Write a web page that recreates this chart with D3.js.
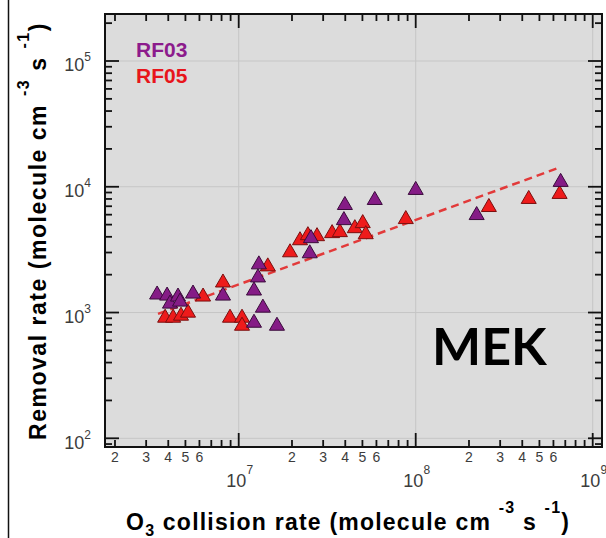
<!DOCTYPE html>
<html>
<head>
<meta charset="utf-8">
<script src="https://cdn.jsdelivr.net/npm/d3@7"></script>
<style>
  html, body { margin: 0; padding: 0; background: #ffffff; }
  svg { display: block; }
</style>
</head>
<body>
<svg id="chart" width="606" height="538"></svg>
<script>
// O3 collision rate vs. MEK removal rate, two research flights
const rf03X = [3.46e6, 3.94e6, 4.09e6, 4.54e6, 4.66e6, 5.52e6, 8.15e6, 1.30e7, 1.285e7, 1.22e7, 1.37e7,
               1.22e7, 1.645e7, 2.56e7, 2.52e7, 3.98e7, 3.93e7, 5.87e7, 1.00e8, 2.21e8, 6.59e8];
const rf03Y = [1387, 1360, 1174, 1336, 1218, 1411, 1360, 2408, 1896, 1492, 1090,
               827, 783, 3890, 2950, 7140, 5415, 7830, 9410, 5940, 10900];

const rf05X = [3.84e6, 4.26e6, 4.72e6, 5.17e6, 6.29e6, 8.15e6, 8.93e6, 1.044e7, 1.044e7, 1.46e7, 1.95e7,
               2.22e7, 2.46e7, 2.77e7, 3.37e7, 3.73e7, 4.53e7, 5.02e7, 5.22e7, 8.79e7, 2.59e8, 4.35e8, 6.50e8];
const rf05Y = [907, 907, 941, 995, 1336, 1728, 907, 907, 783, 2321, 3004,
               3746, 4109, 4035, 4266, 4345, 4672, 5124, 4184, 5517, 6881, 7975, 8742];

// power-law fit: log10(y) = fitIntercept + fitSlope * log10(x)
const fitSlope = 0.513;
const fitIntercept = -0.368;
const fitRange = [3.5e6, 6.6e8];

const seriesNames = ["RF03", "RF05"];
const chartLabel = "MEK";
const xDecades = [7, 8, 9];
const yDecades = [2, 3, 4, 5];
const minorLabels = [2, 3, 4, 5, 6];

const svg = d3.select("#chart");
const P = { left: 105, top: 14, right: 602, bottom: 447 };

const x = d3.scaleLog().domain([10 ** 6.2446, 10 ** 9.0525]).range([P.left, P.right]);
const y = d3.scaleLog().domain([10 ** 1.9308, 10 ** 5.3737]).range([P.bottom, P.top]);

const colors = {
  RF03: { fill: "#851c86", stroke: "#3a0b3b", text: "#8c1b8c" },
  RF05: { fill: "#ee1b1b", stroke: "#7a0f0f", text: "#e8151b" }
};

// page frame line at the left
svg.append("line").attr("x1", 8.5).attr("x2", 8.5).attr("y1", 0).attr("y2", 538)
  .attr("stroke", "#111").attr("stroke-width", 1.5);

// plot background
svg.append("rect").attr("x", P.left).attr("y", P.top)
  .attr("width", P.right - P.left).attr("height", P.bottom - P.top)
  .attr("fill", "#dcdcdc");

// decade grid lines
const grid = svg.append("g").attr("stroke", "#c6c6c6").attr("stroke-width", 1);
xDecades.forEach(k => {
  const px = x(10 ** k);
  grid.append("line").attr("x1", px).attr("x2", px).attr("y1", P.top).attr("y2", P.bottom);
});
yDecades.forEach(k => {
  const py = y(10 ** k);
  grid.append("line").attr("x1", P.left).attr("x2", P.right).attr("y1", py).attr("y2", py);
});

// tick values: mantissa 1..9 for each decade inside the domain
function logTicks(scale, k0, k1) {
  const [d0, d1] = scale.domain();
  const out = [];
  for (let k = k0; k <= k1; k++) {
    for (let m = 1; m <= 9; m++) {
      const v = m * 10 ** k;
      if (v >= d0 && v <= d1) out.push({ v, m, k });
    }
  }
  return out;
}
const xt = logTicks(x, 6, 9);
const yt = logTicks(y, 1, 5);
const majorLen = 14, minorLen = 7;

const ticks = svg.append("g").attr("stroke", "#111").attr("stroke-width", 1.8);
xt.forEach(t => {
  const px = x(t.v), L = t.m === 1 ? majorLen : minorLen;
  ticks.append("line").attr("x1", px).attr("x2", px).attr("y1", P.bottom).attr("y2", P.bottom - L);
  ticks.append("line").attr("x1", px).attr("x2", px).attr("y1", P.top).attr("y2", P.top + L);
});
yt.forEach(t => {
  const py = y(t.v), L = t.m === 1 ? majorLen : minorLen;
  ticks.append("line").attr("x1", P.left).attr("x2", P.left + L).attr("y1", py).attr("y2", py);
  ticks.append("line").attr("x1", P.right).attr("x2", P.right - L).attr("y1", py).attr("y2", py);
});

// plot frame
svg.append("rect").attr("x", P.left).attr("y", P.top)
  .attr("width", P.right - P.left).attr("height", P.bottom - P.top)
  .attr("fill", "none").attr("stroke", "#111").attr("stroke-width", 2);

const tickFont = "'Liberation Sans Narrow', 'Arial Narrow', 'Liberation Sans', Arial, sans-serif";

// x tick labels
const xl = svg.append("g").attr("font-family", tickFont).attr("fill", "#3c3c3c");
xt.filter(t => minorLabels.includes(t.m)).forEach(t => {
  xl.append("text").attr("x", x(t.v)).attr("y", 462).attr("text-anchor", "middle")
    .attr("font-size", 14).text(t.m);
});
xDecades.forEach(k => {
  const tx = xl.append("text").attr("x", x(10 ** k) + 1).attr("y", 487)
    .attr("text-anchor", "middle").attr("font-size", 18);
  tx.append("tspan").text("10");
  tx.append("tspan").attr("dy", -13).attr("font-size", 12).text(k);
});

// y tick labels
yDecades.forEach(k => {
  const ty = xl.append("text").attr("x", 91).attr("y", y(10 ** k) + 10.5)
    .attr("text-anchor", "end").attr("font-size", 18);
  ty.append("tspan").text("10");
  ty.append("tspan").attr("dy", -10).attr("font-size", 12).text(k);
});

// fitted trend line
const fitLine = d3.line().x(d => x(d[0])).y(d => y(d[1]));
const fitPts = fitRange.map(v => [v, 10 ** (fitIntercept + fitSlope * Math.log10(v))]);
svg.append("path").attr("d", fitLine(fitPts))
  .attr("fill", "none").attr("stroke", "#e23a3a").attr("stroke-width", 2.5)
  .attr("stroke-dasharray", "8,5");

// data markers
const tri = d3.symbol().type(d3.symbolTriangle).size(98);
function drawSeries(name, xs, ys) {
  const c = colors[name];
  svg.append("g").selectAll("path")
    .data(xs.map((v, i) => [v, ys[i]]))
    .join("path")
    .attr("d", tri)
    .attr("transform", d => `translate(${x(d[0])},${y(d[1])})`)
    .attr("fill", c.fill).attr("stroke", c.stroke).attr("stroke-width", 1);
}
drawSeries("RF05", rf05X, rf05Y);
drawSeries("RF03", rf03X, rf03Y);

// legend
const legFont = "'Liberation Sans', Arial, sans-serif";
seriesNames.forEach((n, i) => {
  svg.append("text").attr("x", 136).attr("y", 57 + i * 26)
    .attr("font-family", legFont).attr("font-weight", "bold").attr("font-size", 21)
    .attr("fill", colors[n].text).text(n);
});

// panel label
svg.append("text").attr("x", 432).attr("y", 365)
  .attr("font-family", "Lato, 'Open Sans', sans-serif").attr("font-weight", "bold")
  .attr("font-size", 52).attr("fill", "#000").text(chartLabel);

// axis titles, stretched to their spans
function fitSpacing(sel, target) {
  const node = sel.node();
  const len = node.getComputedTextLength();
  const n = node.textContent.length;
  sel.attr("letter-spacing", ((target - len) / n).toFixed(2));
}

const titleFont = "'Liberation Sans', Arial, sans-serif";
const xTitle = svg.append("text").attr("x", 126).attr("y", 530)
  .attr("font-family", titleFont).attr("font-weight", "bold").attr("font-size", 23).attr("fill", "#000");
xTitle.append("tspan").text("O");
xTitle.append("tspan").attr("dy", 6).attr("font-size", 16).text("3");
xTitle.append("tspan").attr("dy", -6).text(" collision rate (molecule cm ");
xTitle.append("tspan").attr("dy", -17).attr("font-size", 16).text("-3");
xTitle.append("tspan").attr("dy", 17).text(" s ");
xTitle.append("tspan").attr("dy", -17).attr("font-size", 16).text("-1");
xTitle.append("tspan").attr("dy", 17).text(")");
fitSpacing(xTitle, 444);

const yTitle = svg.append("text")
  .attr("transform", "translate(46,440) rotate(-90)")
  .attr("font-family", titleFont).attr("font-weight", "bold").attr("font-size", 23).attr("fill", "#000");
yTitle.append("tspan").text("Removal rate (molecule cm ");
yTitle.append("tspan").attr("dy", -17).attr("font-size", 16).text("-3");
yTitle.append("tspan").attr("dy", 17).text(" s ");
yTitle.append("tspan").attr("dy", -17).attr("font-size", 16).text("-1");
yTitle.append("tspan").attr("dy", 17).text(")");
fitSpacing(yTitle, 418);
</script>
</body>
</html>
